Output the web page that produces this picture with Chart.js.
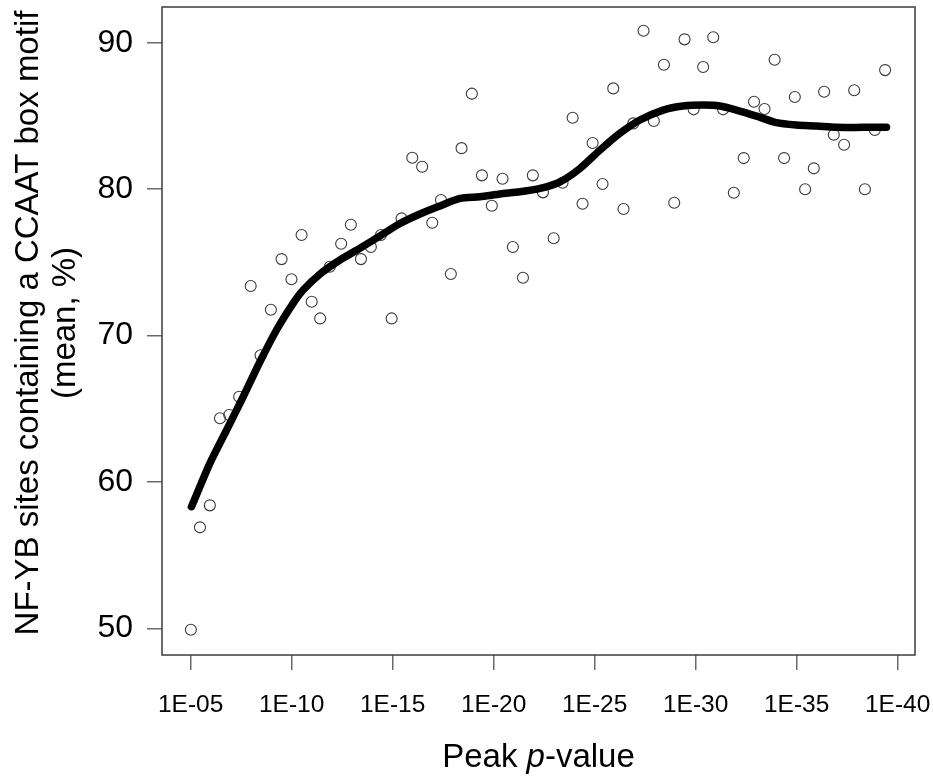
<!DOCTYPE html>
<html>
<head>
<meta charset="utf-8">
<title>CCAAT box motif vs peak p-value</title>
<script src="https://cdn.jsdelivr.net/npm/chart.js@4/dist/chart.umd.min.js"></script>
<style>
  html, body { margin: 0; padding: 0; background: #ffffff; }
  #wrap { width: 933px; height: 779px; position: relative; }
</style>
</head>
<body>
<div id="wrap"><canvas id="chart"></canvas></div>
<script>
// Peak p-value bins (as -log10 exponent) and mean % of NF-YB sites with a CCAAT box
const peakExponent = [
  5.01, 5.46, 5.95, 6.45, 6.91, 7.40, 7.97, 8.46, 8.97, 9.50,
  9.99, 10.49, 10.99, 11.41, 11.89, 12.45, 12.93, 13.43, 13.92, 14.42,
  14.95, 15.44, 15.97, 16.46, 16.96, 17.39, 17.88, 18.41, 18.92, 19.42,
  19.91, 20.44, 20.95, 21.45, 21.94, 22.44, 22.97, 23.41, 23.91, 24.40,
  24.90, 25.39, 25.92, 26.43, 26.91, 27.42, 27.93, 28.43, 28.94, 29.45,
  29.90, 30.37, 30.87, 31.36, 31.89, 32.38, 32.89, 33.41, 33.91, 34.38,
  34.91, 35.42, 35.85, 36.36, 36.84, 37.35, 37.85, 38.38, 38.87, 39.38
];
const ccaatPercent = [
  49.9, 56.9, 58.4, 64.35, 64.57, 65.82, 73.38, 68.65, 71.76, 75.22,
  73.84, 76.87, 72.31, 71.17, 74.7, 76.27, 77.57, 75.22, 76.05, 76.87,
  71.17, 78.0, 82.14, 81.53, 77.7, 79.26, 74.2, 82.8, 86.52, 80.94,
  78.87, 80.71, 76.05, 73.95, 80.94, 79.78, 76.64, 80.44, 84.88, 79.0,
  83.15, 80.35, 86.88, 78.64, 84.49, 90.82, 84.65, 88.5, 79.07, 90.23,
  85.45, 88.34, 90.37, 85.45, 79.75, 82.12, 85.97, 85.47, 88.84, 82.12,
  86.29, 79.99, 81.42, 86.65, 83.72, 83.03, 86.75, 79.99, 84.04, 88.13
];

// Smoothed trend through the bins
const trendExponent = [
  5.04, 5.95, 6.78, 7.6, 8.43, 9.25, 10.07, 10.57, 11.4, 12.39,
  13.38, 14.37, 15.36, 16.35, 17.34, 18.33, 19.32, 20.31, 21.3, 22.3,
  23.29, 24.28, 25.27, 26.25, 27.24, 28.39, 29.38, 30.37, 31.2, 32.02,
  33.01, 34.0, 34.99, 35.98, 36.97, 38.29, 39.45
];
const trendPercent = [
  58.31, 61.27, 63.55, 65.82, 68.21, 70.38, 72.2, 73.11, 74.2, 75.16,
  75.96, 76.8, 77.65, 78.3, 78.85, 79.37, 79.48, 79.67, 79.82, 80.05,
  80.5, 81.42, 82.67, 83.81, 84.72, 85.4, 85.68, 85.75, 85.68, 85.4,
  84.99, 84.54, 84.38, 84.31, 84.22, 84.22, 84.22
];

// Axis ticks
const xTickValues = [5, 10, 15, 20, 25, 30, 35, 40];
const xTickLabels = ['1E-05', '1E-10', '1E-15', '1E-20', '1E-25', '1E-30', '1E-35', '1E-40'];
const yTickValues = [50, 60, 70, 80, 90];

const FONT = '"Liberation Sans", Arial, Helvetica, sans-serif';

// Keep the plotting region fixed: no extra room reserved for edge labels
function noEdgePadding(axis) {
  axis.paddingTop = 0;
  axis.paddingBottom = 0;
  axis.paddingLeft = 0;
  axis.paddingRight = 0;
}

// Frame around the plotting region plus the two axis titles
const framePlugin = {
  id: 'frameAndTitles',
  afterDraw(chart) {
    const { ctx, chartArea: a } = chart;
    ctx.save();
    ctx.strokeStyle = '#3c3c3c';
    ctx.lineWidth = 1.5;
    ctx.strokeRect(a.left, a.top, a.right - a.left, a.bottom - a.top);

    // x title with italic "p"
    ctx.fillStyle = '#000';
    ctx.textBaseline = 'alphabetic';
    const size = 33;
    const normal = `${size}px ${FONT}`;
    const italic = `italic ${size}px ${FONT}`;
    const parts = [['Peak ', normal], ['p', italic], ['-value', normal]];
    let total = 0;
    parts.forEach(([t, f]) => { ctx.font = f; total += ctx.measureText(t).width; });
    let x = (a.left + a.right) / 2 - total / 2;
    const y = 766.5;
    ctx.textAlign = 'left';
    parts.forEach(([t, f]) => { ctx.font = f; ctx.fillText(t, x, y); x += ctx.measureText(t).width; });

    // y title, two rotated lines
    ctx.font = normal;
    ctx.textAlign = 'center';
    ctx.translate(0, 323);
    ctx.rotate(-Math.PI / 2);
    ctx.fillText('NF-YB sites containing a CCAAT box motif', 0, 37.7);
    ctx.fillText('(mean, %)', 0, 74.8);
    ctx.restore();
  }
};

new Chart(document.getElementById('chart'), {
  type: 'scatter',
  data: {
    datasets: [
      {
        label: 'trend',
        data: trendExponent.map((v, i) => ({ x: v, y: trendPercent[i] })),
        showLine: true,
        borderColor: '#000000',
        borderWidth: 7.5,
        borderCapStyle: 'round',
        borderJoinStyle: 'round',
        tension: 0.25,
        pointRadius: 0,
        pointHoverRadius: 0,
        fill: false,
        order: 0
      },
      {
        label: 'bins',
        data: peakExponent.map((v, i) => ({ x: v, y: ccaatPercent[i] })),
        pointStyle: 'circle',
        pointRadius: 5.5,
        pointBorderWidth: 1.1,
        borderColor: '#3a3a3a',
        backgroundColor: 'rgba(255,255,255,0)',
        order: 1
      }
    ]
  },
  options: {
    responsive: true,
    maintainAspectRatio: false,
    animation: false,
    layout: { padding: { top: 7, right: 18, left: 0, bottom: 0 } },
    plugins: { legend: { display: false }, tooltip: { enabled: false } },
    scales: {
      x: {
        type: 'linear',
        min: 3.58,
        max: 40.86,
        afterBuildTicks: (axis) => { axis.ticks = xTickValues.map(v => ({ value: v })); },
        afterFit: (axis) => { axis.height = 124; noEdgePadding(axis); },
        border: { display: false },
        grid: { drawOnChartArea: false, drawTicks: true, tickLength: 15, color: '#6a6a6a', lineWidth: 1.5 },
        ticks: {
          autoSkip: false,
          maxRotation: 0,
          padding: 21,
          color: '#000',
          font: { family: FONT, size: 24.5 },
          callback: (v) => xTickLabels[xTickValues.indexOf(v)]
        }
      },
      y: {
        type: 'linear',
        min: 48.18,
        max: 92.44,
        afterBuildTicks: (axis) => { axis.ticks = yTickValues.map(v => ({ value: v })); },
        afterFit: (axis) => { axis.width = 162; noEdgePadding(axis); },
        border: { display: false },
        grid: { drawOnChartArea: false, drawTicks: true, tickLength: 15, color: '#6a6a6a', lineWidth: 1.5 },
        ticks: {
          padding: 14,
          color: '#000',
          font: { family: FONT, size: 32 }
        }
      }
    }
  },
  plugins: [framePlugin]
});
</script>
</body>
</html>
